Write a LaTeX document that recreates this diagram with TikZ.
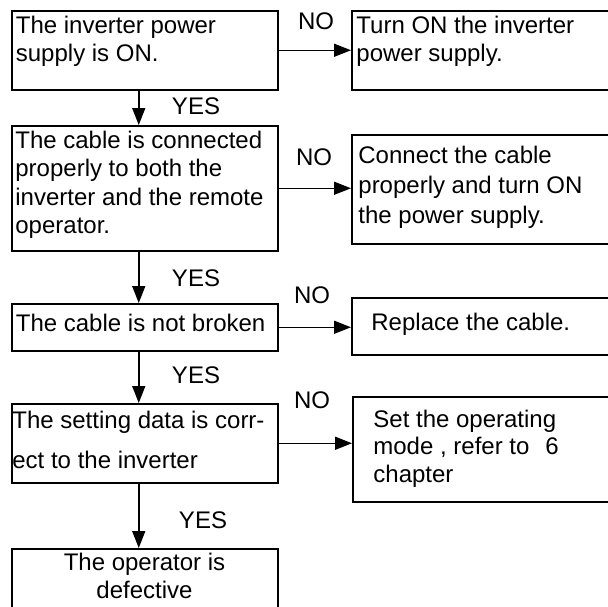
\documentclass[tikz,border=0pt]{standalone}
\usepackage{fontspec}
\setmainfont{Liberation Sans}
\usetikzlibrary{arrows.meta}

\begin{document}
\begin{tikzpicture}[x=0.5pt, y=-0.5pt,
  box/.style={draw=black, line width=0.75pt, inner sep=0pt, anchor=north west},
  txt/.style={inner sep=0pt, anchor=north west, align=left, font=\fontsize{12pt}{14.25pt}\selectfont},
  lbl/.style={inner sep=0pt, font=\fontsize{12pt}{14.25pt}\selectfont},
  arr/.style={line width=0.75pt, -{Triangle[length=8.5pt, width=6.5pt]}}]
\useasboundingbox (0,0) rectangle (608,606);
\clip (0,0) rectangle (608,606);
% left column: checks
\node[box, minimum width=133pt, minimum height=39.5pt] (b1) at (11,10) {};
\node[box, minimum width=133pt, minimum height=62.5pt] (b3) at (11,125) {};
\node[box, minimum width=133pt, minimum height=23.5pt] (b5) at (11,303) {};
\node[box, minimum width=133pt, minimum height=39.5pt] (b7) at (11,403) {};
\node[box, minimum width=133pt, minimum height=40pt] (b9) at (11,548) {};
% right column: remedies (cut at the right edge)
\node[box, minimum width=132pt, minimum height=39.5pt] (b2) at (351,10) {};
\node[box, minimum width=132pt, minimum height=54.5pt] (b4) at (351,134) {};
\node[box, minimum width=132pt, minimum height=28.5pt] (b6) at (351,297) {};
\node[box, minimum width=132pt, minimum height=52.5pt] (b8) at (352,396) {};
% texts
\node[txt] (b1txt) at (15.5,15.5) {The inverter power\\supply is ON.};
\node[txt] (b2txt) at (356,15.5) {Turn ON the inverter\\power supply.};
\node[txt] (b3txt) at (15,130.5) {The cable is connected\\properly to both the\\inverter and the remote\\operator.};
\node[txt, font=\fontsize{12pt}{15pt}\selectfont] (b4txt) at (358,146) {Connect the cable\\properly and turn ON\\the power supply.};
\node[txt] (b5txt) at (15.5,313.5) {The cable is not broken};
\node[txt] (b6txt) at (371,312.5) {Replace the cable.};
\node[txt, font=\fontsize{12pt}{20pt}\selectfont] (b7txt) at (12,410.5) {The setting data is corr-\\ect to the inverter};
\node[txt, font=\fontsize{12pt}{13.75pt}\selectfont] (b8txt) at (373,409.5) {Set the operating\\mode , refer to\hspace{8pt}6\\chapter};
\node[txt, anchor=north, align=center, font=\fontsize{12pt}{14pt}\selectfont] (b9txt) at (144.5,552.5) {The operator is\\defective};
% YES / NO
\node[lbl] (no1) at (316,21) {NO};
\node[lbl] (no2) at (314,157) {NO};
\node[lbl] (no3) at (312,295) {NO};
\node[lbl] (no4) at (312,400) {NO};
\node[lbl] (yes1) at (196,106) {YES};
\node[lbl] (yes2) at (196,278) {YES};
\node[lbl] (yes3) at (196,375) {YES};
\node[lbl] (yes4) at (203,520) {YES};
% connectors
\draw[arr] (b1.east) -- (b1.east -| b2.west);
\draw[arr] (b3.east) -- (b3.east -| b4.west);
\draw[arr] (b5.east) -- (b5.east -| b6.west);
\draw[arr] (b7.east) -- (b7.east -| b8.west);
\draw[arr] ([xshift=-3pt]b1.south) -- ([xshift=-3pt]b3.north);
\draw[arr] ([xshift=-3pt]b3.south) -- ([xshift=-3pt]b5.north);
\draw[arr] ([xshift=-3pt]b5.south) -- ([xshift=-3pt]b7.north);
\draw[arr] ([xshift=-3pt]b7.south) -- ([xshift=-3pt]b9.north);
\end{tikzpicture}
\end{document}
